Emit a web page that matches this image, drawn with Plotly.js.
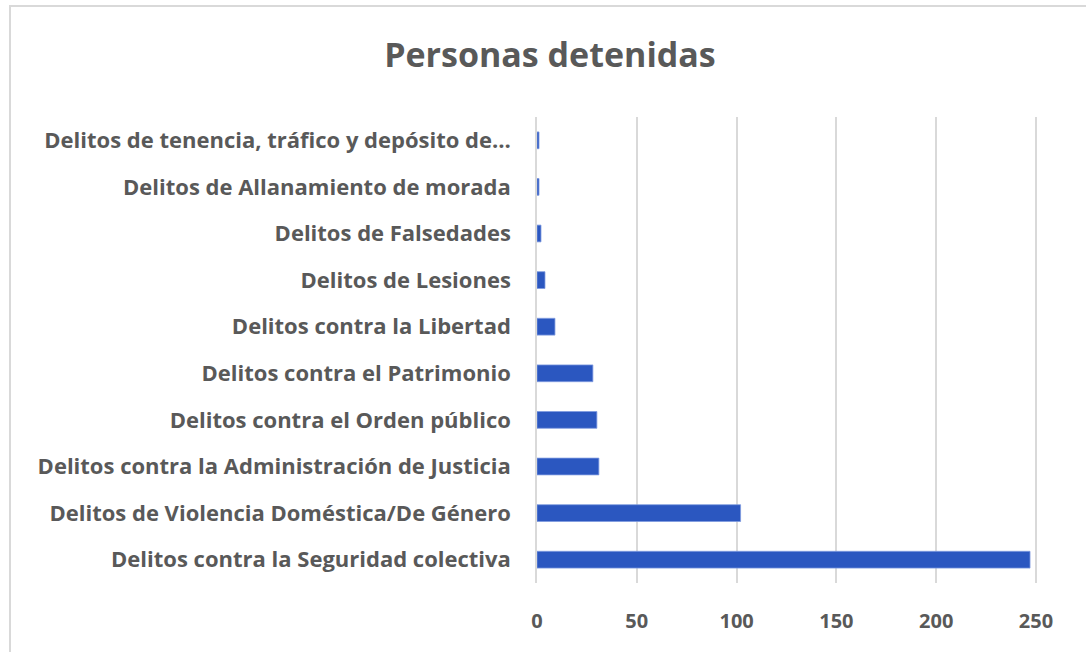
<!DOCTYPE html>
<html>
<head>
<meta charset="utf-8">
<script src="https://cdn.plot.ly/plotly-3.0.1.min.js"></script>
<style>
html,body{margin:0;padding:0;background:#fff;overflow:hidden;}
#frame{position:absolute;left:9px;top:5px;width:1100px;height:680px;border-top:2px solid #d9d9d9;border-left:2px solid #d9d9d9;box-sizing:border-box;}
#chart{position:absolute;left:0;top:0;width:1086px;height:652px;}
</style>
</head>
<body>
<div id="frame"></div>
<div id="chart"></div>
<script>
const categories = [
  "Delitos de tenencia, tráfico y depósito de…",
  "Delitos de Allanamiento de morada",
  "Delitos de Falsedades",
  "Delitos de Lesiones",
  "Delitos contra la Libertad",
  "Delitos contra el Patrimonio",
  "Delitos contra el Orden público",
  "Delitos contra la Administración de Justicia",
  "Delitos de Violencia Doméstica/De Género",
  "Delitos contra la Seguridad colectiva"
];
const detenidos = [1, 1, 2, 4, 9, 28, 30, 31, 102, 247];
const xTicks = [0, 50, 100, 150, 200, 250];

const trace = {
  type: 'bar',
  orientation: 'h',
  y: categories,
  x: detenidos,
  marker: {color: '#2B57C0', line: {color: '#7f9be0', width: 0.8}},
  hoverinfo: 'x+y'
};

const layout = {
  width: 1086,
  height: 652,
  paper_bgcolor: 'rgba(0,0,0,0)',
  plot_bgcolor: 'rgba(0,0,0,0)',
  margin: {l: 537, r: 48, t: 117, b: 69},
  bargap: 0.64,
  showlegend: false,
  font: {family: 'Open Sans, sans-serif', color: '#595959'},
  title: {
    text: '<b>Personas detenidas</b>',
    x: 0.5064, xref: 'container', xanchor: 'center',
    y: 0.915, yref: 'container', yanchor: 'middle',
    font: {size: 34, color: '#595959', family: 'Open Sans, sans-serif'}
  },
  xaxis: {
    range: [0, 251],
    tickvals: xTicks,
    ticktext: xTicks.map(v => '<b>' + v + '</b>'),
    showgrid: true,
    gridcolor: '#d9d9d9',
    gridwidth: 1.5,
    zeroline: false,
    showline: false,
    ticks: '',
    ticklabelstandoff: 24,
    tickfont: {size: 20, color: '#595959', family: 'Open Sans, sans-serif'},
    fixedrange: true
  },
  yaxis: {
    autorange: 'reversed',
    tickvals: categories,
    ticktext: categories.map(c => '<b>' + c + '</b>'),
    showgrid: false,
    zeroline: false,
    showline: true,
    linecolor: '#d9d9d9',
    linewidth: 1.5,
    ticks: '',
    ticklabelstandoff: 20,
    tickfont: {size: 22, color: '#595959', family: 'Open Sans, sans-serif'},
    fixedrange: true
  }
};

Plotly.newPlot('chart', [trace], layout, {displayModeBar: false});
</script>
</body>
</html>
